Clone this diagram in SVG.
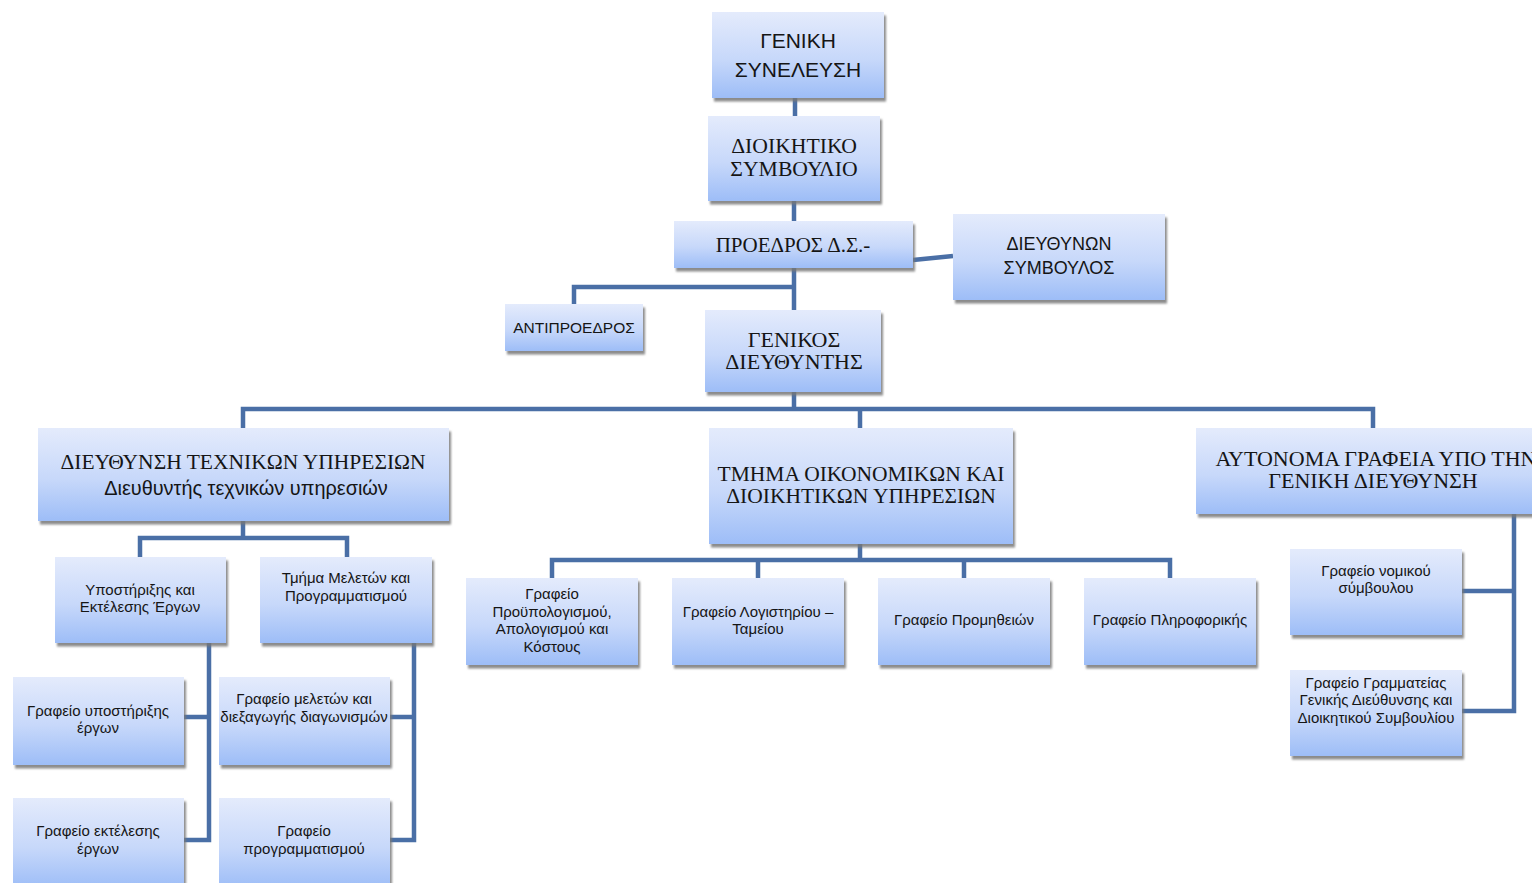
<svg xmlns="http://www.w3.org/2000/svg" width="1532" height="883" viewBox="0 0 1532 883">
<defs>
<linearGradient id="g" x1="0" y1="0" x2="0" y2="1">
<stop offset="0" stop-color="#e4ebfc"/>
<stop offset="0.55" stop-color="#c7d8fa"/>
<stop offset="1" stop-color="#9dbdf7"/>
</linearGradient>
<filter id="sh" x="-5%" y="-5%" width="112%" height="120%">
<feDropShadow dx="2" dy="3.5" stdDeviation="1.3" flood-color="#777" flood-opacity="0.85"/>
</filter>
</defs>
<style>
.b{fill:url(#g);filter:url(#sh)}
.c{fill:none;stroke:#4a6fa6;stroke-width:4.5;stroke-linejoin:miter}
text{fill:#151515;text-anchor:middle}
.s{font-family:"Liberation Sans","Noto Sans",sans-serif}
.r{font-family:"Liberation Serif","DejaVu Serif",serif}
.t{font-size:15px}
.h{font-size:21.5px}
</style>
<rect width="1532" height="883" fill="#fff"/>
<g id="connectors">
<path class="c" d="M795 98V116"/>
<path class="c" d="M794 201V221"/>
<path class="c" d="M794 268V310M794 287H574V304"/>
<path class="c" d="M913 260L953 256"/>
<path class="c" d="M794 392V409M243 428V409H1373V428M860 409V428"/>
<path class="c" d="M243 521V538M140 557V538H347V557"/>
<path class="c" d="M209 643V840H184M209 717H184"/>
<path class="c" d="M414 643V840H390M414 717H390"/>
<path class="c" d="M860 544V560M552 578V560H1170V578M758 560V578M964 560V578"/>
<path class="c" d="M1514 514V711H1462M1514 591H1462"/>
</g>
<g id="n1"><rect class="b" x="712" y="12" width="172" height="86"/>
<text class="s" font-size="21" x="798" y="48">ΓΕΝΙΚΗ</text><text class="s" font-size="21" x="798" y="77">ΣΥΝΕΛΕΥΣΗ</text></g>
<g id="n2"><rect class="b" x="708" y="116" width="172" height="85"/>
<text class="r" font-size="21.7" x="794" y="153">ΔΙΟΙΚΗΤΙΚΟ</text><text class="r" font-size="21.7" x="794" y="176">ΣΥΜΒΟΥΛΙΟ</text></g>
<g id="n3"><rect class="b" x="674" y="221" width="239" height="47"/>
<text class="r" font-size="21" x="793" y="252">ΠΡΟΕΔΡΟΣ Δ.Σ.-</text></g>
<g id="n4"><rect class="b" x="953" y="214" width="212" height="86"/>
<text class="s" font-size="18" x="1059" y="250">ΔΙΕΥΘΥΝΩΝ</text><text class="s" font-size="18" x="1059" y="274">ΣΥΜΒΟΥΛΟΣ</text></g>
<g id="n5"><rect class="b" x="505" y="304" width="138" height="47"/>
<text class="s" font-size="15.5" x="574" y="333">ΑΝΤΙΠΡΟΕΔΡΟΣ</text></g>
<g id="n6"><rect class="b" x="705" y="310" width="176" height="82"/>
<text class="r" font-size="22" x="794" y="347">ΓΕΝΙΚΟΣ</text><text class="r" font-size="22" x="794" y="369">ΔΙΕΥΘΥΝΤΗΣ</text></g>
<g id="n7"><rect class="b" x="38" y="428" width="411" height="93"/>
<text class="r h" x="243" y="469">ΔΙΕΥΘΥΝΣΗ ΤΕΧΝΙΚΩΝ ΥΠΗΡΕΣΙΩΝ</text><text class="s" font-size="19.9" x="246" y="495">Διευθυντής τεχνικών υπηρεσιών</text></g>
<g id="n8"><rect class="b" x="709" y="428" width="304" height="116"/>
<text class="r h" x="861" y="481">ΤΜΗΜΑ ΟΙΚΟΝΟΜΙΚΩΝ ΚΑΙ</text><text class="r h" x="861" y="503">ΔΙΟΙΚΗΤΙΚΩΝ ΥΠΗΡΕΣΙΩΝ</text></g>
<g id="n9"><rect class="b" x="1196" y="428" width="354" height="86"/>
<text class="r" font-size="22" x="1376" y="466">ΑΥΤΟΝΟΜΑ ΓΡΑΦΕΙΑ ΥΠΟ ΤΗΝ</text><text class="r" font-size="22" x="1373" y="488">ΓΕΝΙΚΗ ΔΙΕΥΘΥΝΣΗ</text></g>
<g id="n10"><rect class="b" x="55" y="557" width="171" height="86"/>
<text class="s t" x="140" y="595">Υποστήριξης και</text><text class="s t" x="140" y="612">Εκτέλεσης Έργων</text></g>
<g id="n11"><rect class="b" x="260" y="557" width="172" height="86"/>
<text class="s t" x="346" y="583">Τμήμα Μελετών και</text><text class="s t" x="346" y="601">Προγραμματισμού</text></g>
<g id="n12"><rect class="b" x="13" y="677" width="171" height="88"/>
<text class="s t" x="98" y="716">Γραφείο υποστήριξης</text><text class="s t" x="98" y="733">έργων</text></g>
<g id="n13"><rect class="b" x="13" y="798" width="171" height="90"/>
<text class="s t" x="98" y="836">Γραφείο εκτέλεσης</text><text class="s t" x="98" y="854">έργων</text></g>
<g id="n14"><rect class="b" x="219" y="677" width="171" height="88"/>
<text class="s t" x="304" y="704">Γραφείο μελετών και</text><text class="s t" x="304" y="722">διεξαγωγής διαγωνισμών</text></g>
<g id="n15"><rect class="b" x="219" y="798" width="171" height="90"/>
<text class="s t" x="304" y="836">Γραφείο</text><text class="s t" x="304" y="854">προγραμματισμού</text></g>
<g id="n16"><rect class="b" x="466" y="578" width="172" height="87"/>
<text class="s t" x="552" y="599">Γραφείο</text><text class="s t" x="552" y="617">Προϋπολογισμού,</text><text class="s t" x="552" y="634">Απολογισμού και</text><text class="s t" x="552" y="652">Κόστους</text></g>
<g id="n17"><rect class="b" x="672" y="578" width="172" height="87"/>
<text class="s t" x="758" y="617">Γραφείο Λογιστηρίου –</text><text class="s t" x="758" y="634">Ταμείου</text></g>
<g id="n18"><rect class="b" x="878" y="578" width="172" height="87"/>
<text class="s t" x="964" y="625">Γραφείο Προμηθειών</text></g>
<g id="n19"><rect class="b" x="1084" y="578" width="172" height="87"/>
<text class="s t" x="1170" y="625">Γραφείο Πληροφορικής</text></g>
<g id="n20"><rect class="b" x="1290" y="549" width="172" height="86"/>
<text class="s t" x="1376" y="576">Γραφείο νομικού</text><text class="s t" x="1376" y="593">σύμβουλου</text></g>
<g id="n21"><rect class="b" x="1290" y="670" width="172" height="86"/>
<text class="s t" x="1376" y="688">Γραφείο Γραμματείας</text><text class="s t" x="1376" y="705">Γενικής Διεύθυνσης και</text><text class="s t" x="1376" y="723">Διοικητικού Συμβουλίου</text></g>
</svg>
